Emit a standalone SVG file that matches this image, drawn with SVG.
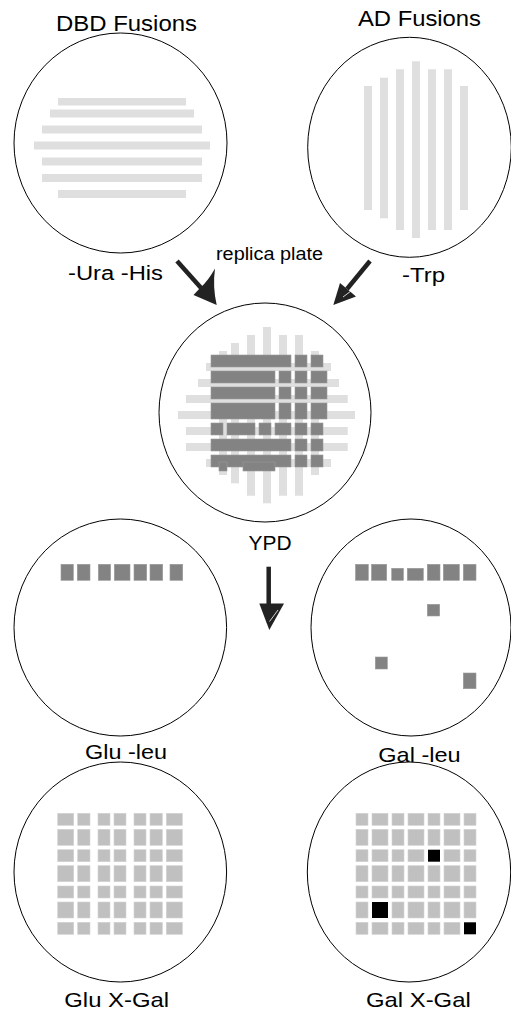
<svg xmlns="http://www.w3.org/2000/svg" width="511" height="1011" viewBox="0 0 511 1011">
<style>
.plate{fill:#fff;stroke:#000;stroke-width:1}
.lbl{font-family:"Liberation Sans",Arial,Helvetica,sans-serif;fill:#000}
.lt{fill:#dfdfdf}
.dk{fill:#838383;stroke:#9a9a9a;stroke-width:0.6}
.gr{fill:#c0c0c0;stroke:#d2d2d2;stroke-width:0.6}
.bk{fill:#000}
.arr{fill:#222;stroke:none}
.shaft{stroke:#222;stroke-width:4.5;fill:none}
</style>
<rect width="511" height="1011" fill="#fff"/>

<g id="dbd-plate">
<ellipse class="plate" cx="120.5" cy="143" rx="106.5" ry="110"/>
<rect class="lt" x="58" y="98" width="128" height="7.5"/>
<rect class="lt" x="50" y="109.5" width="144" height="8"/>
<rect class="lt" x="42" y="125.5" width="160" height="8"/>
<rect class="lt" x="34" y="141.5" width="176" height="8"/>
<rect class="lt" x="42" y="157.5" width="160" height="8"/>
<rect class="lt" x="42" y="174" width="160" height="8"/>
<rect class="lt" x="58" y="190" width="128" height="8"/>
<text class="lbl" x="56" y="31" font-size="22" textLength="141" lengthAdjust="spacingAndGlyphs">DBD Fusions</text>
<text class="lbl" x="68" y="280" font-size="20" textLength="95" lengthAdjust="spacingAndGlyphs">-Ura -His</text>
</g>

<g id="ad-plate">
<ellipse class="plate" cx="409.5" cy="147.3" rx="101.8" ry="110"/>
<rect class="lt" x="364" y="86" width="8" height="124"/>
<rect class="lt" x="380" y="77.7" width="8" height="140.6"/>
<rect class="lt" x="396" y="69.3" width="8" height="160.7"/>
<rect class="lt" x="412" y="61.3" width="8" height="176.7"/>
<rect class="lt" x="428" y="69.3" width="8" height="160.7"/>
<rect class="lt" x="444" y="69.3" width="8" height="160.7"/>
<rect class="lt" x="460" y="86" width="8" height="124"/>
<text class="lbl" x="358" y="26" font-size="22" textLength="123" lengthAdjust="spacingAndGlyphs">AD Fusions</text>
<text class="lbl" x="402" y="281.5" font-size="20" textLength="43" lengthAdjust="spacingAndGlyphs">-Trp</text>
</g>

<g id="ypd-plate">
<ellipse class="plate" cx="265" cy="412.5" rx="106" ry="109.5"/>
<rect class="lt" x="219" y="351" width="8" height="124"/>
<rect class="lt" x="231" y="343" width="8" height="140.3"/>
<rect class="lt" x="247" y="335" width="8" height="160.7"/>
<rect class="lt" x="263" y="327" width="8" height="176.3"/>
<rect class="lt" x="279" y="335" width="8" height="160.7"/>
<rect class="lt" x="295" y="335" width="8" height="160.7"/>
<rect class="lt" x="311" y="351" width="8" height="124"/>
<rect class="lt" x="206" y="363" width="125" height="8"/>
<rect class="lt" x="198" y="379" width="141" height="8"/>
<rect class="lt" x="186" y="395" width="161.7" height="8"/>
<rect class="lt" x="178" y="411" width="177" height="8"/>
<rect class="lt" x="186" y="427" width="161.7" height="8"/>
<rect class="lt" x="186" y="443" width="161.7" height="8"/>
<rect class="lt" x="206" y="459" width="125" height="8"/>
<rect class="dk" x="211" y="355" width="80" height="12"/>
<rect class="dk" x="295" y="355" width="12" height="12"/>
<rect class="dk" x="311" y="355" width="12" height="12"/>
<rect class="dk" x="211" y="371" width="64" height="12"/>
<rect class="dk" x="279" y="371" width="12" height="12"/>
<rect class="dk" x="295" y="371" width="12" height="12"/>
<rect class="dk" x="311" y="371" width="16" height="12"/>
<rect class="dk" x="211" y="387" width="64" height="12"/>
<rect class="dk" x="279" y="387" width="12" height="12"/>
<rect class="dk" x="295" y="387" width="12" height="12"/>
<rect class="dk" x="311" y="387" width="16" height="12"/>
<rect class="dk" x="211" y="403" width="64" height="16"/>
<rect class="dk" x="279" y="403" width="12" height="16"/>
<rect class="dk" x="295" y="403" width="12" height="16"/>
<rect class="dk" x="311" y="403" width="16" height="16"/>
<rect class="dk" x="211" y="423" width="12" height="12"/>
<rect class="dk" x="227" y="423" width="28" height="12"/>
<rect class="dk" x="259" y="423" width="12" height="12"/>
<rect class="dk" x="275" y="423" width="16" height="12"/>
<rect class="dk" x="295" y="423" width="12" height="12"/>
<rect class="dk" x="311" y="423" width="12" height="12"/>
<rect class="dk" x="211" y="439" width="80" height="12"/>
<rect class="dk" x="295" y="439" width="12" height="12"/>
<rect class="dk" x="311" y="439" width="12" height="12"/>
<rect class="dk" x="211" y="455" width="80" height="12"/>
<rect class="dk" x="219" y="462" width="8" height="9"/>
<rect class="dk" x="243" y="462" width="32" height="9"/>
<rect class="dk" x="295" y="455" width="12" height="12"/>
<rect class="dk" x="311" y="455" width="12" height="12"/>
<text class="lbl" x="248.5" y="549.5" font-size="20" textLength="43" lengthAdjust="spacingAndGlyphs">YPD</text>
</g>

<g id="glu-leu-plate">
<ellipse class="plate" cx="120.3" cy="627.5" rx="106.3" ry="108.5"/>
<rect class="dk" x="61" y="564.3" width="12.3" height="16"/>
<rect class="dk" x="77.3" y="564.3" width="12.7" height="16"/>
<rect class="dk" x="98.3" y="564.3" width="12.3" height="16"/>
<rect class="dk" x="114.3" y="564.3" width="15.7" height="16"/>
<rect class="dk" x="134" y="564.3" width="12.7" height="16"/>
<rect class="dk" x="150" y="564.3" width="12.7" height="16"/>
<rect class="dk" x="170" y="564.3" width="12.7" height="16"/>
<text class="lbl" x="85" y="759" font-size="21" textLength="82" lengthAdjust="spacingAndGlyphs">Glu -leu</text>
</g>

<g id="gal-leu-plate">
<ellipse class="plate" cx="411" cy="627.5" rx="100" ry="108.5"/>
<rect class="dk" x="355.5" y="564.3" width="12.8" height="16"/>
<rect class="dk" x="371.5" y="564.3" width="15.2" height="16"/>
<rect class="dk" x="391.7" y="568.3" width="11.7" height="12"/>
<rect class="dk" x="407.3" y="568.3" width="16" height="12"/>
<rect class="dk" x="427.3" y="564.3" width="12.7" height="16"/>
<rect class="dk" x="443.3" y="564.3" width="16" height="16"/>
<rect class="dk" x="463.3" y="564.3" width="12.7" height="16"/>
<rect class="dk" x="427.3" y="604.3" width="12.4" height="11.7"/>
<rect class="dk" x="375.3" y="657" width="12" height="12"/>
<rect class="dk" x="463.3" y="673" width="12.7" height="15.7"/>
<text class="lbl" x="378.3" y="762.3" font-size="21" textLength="82.4" lengthAdjust="spacingAndGlyphs">Gal -leu</text>
</g>

<g id="glu-xgal-plate">
<ellipse class="plate" cx="120.3" cy="872" rx="106.3" ry="110"/>
<g class="gr">
<rect x="57.7" y="813.3" width="16" height="12"/><rect x="77.7" y="813.3" width="12.3" height="12"/><rect x="98" y="813.3" width="12" height="12"/><rect x="114" y="813.3" width="12" height="12"/><rect x="134" y="813.3" width="12" height="12"/><rect x="150" y="813.3" width="12.3" height="12"/><rect x="166.3" y="813.3" width="16" height="12"/>
<rect x="57.7" y="829.3" width="16" height="16"/><rect x="77.7" y="829.3" width="12.3" height="16"/><rect x="98" y="829.3" width="12" height="16"/><rect x="114" y="829.3" width="12" height="16"/><rect x="134" y="829.3" width="12" height="16"/><rect x="150" y="829.3" width="12.3" height="16"/><rect x="166.3" y="829.3" width="16" height="16"/>
<rect x="57.7" y="849.7" width="16" height="12"/><rect x="77.7" y="849.7" width="12.3" height="12"/><rect x="98" y="849.7" width="12" height="12"/><rect x="114" y="849.7" width="12" height="12"/><rect x="134" y="849.7" width="12" height="12"/><rect x="150" y="849.7" width="12.3" height="12"/><rect x="166.3" y="849.7" width="16" height="12"/>
<rect x="57.7" y="865.7" width="16" height="16"/><rect x="77.7" y="865.7" width="12.3" height="16"/><rect x="98" y="865.7" width="12" height="16"/><rect x="114" y="865.7" width="12" height="16"/><rect x="134" y="865.7" width="12" height="16"/><rect x="150" y="865.7" width="12.3" height="16"/><rect x="166.3" y="865.7" width="16" height="16"/>
<rect x="57.7" y="886" width="16" height="12"/><rect x="77.7" y="886" width="12.3" height="12"/><rect x="98" y="886" width="12" height="12"/><rect x="114" y="886" width="12" height="12"/><rect x="134" y="886" width="12" height="12"/><rect x="150" y="886" width="12.3" height="12"/><rect x="166.3" y="886" width="16" height="12"/>
<rect x="57.7" y="902" width="16" height="16"/><rect x="77.7" y="902" width="12.3" height="16"/><rect x="98" y="902" width="12" height="16"/><rect x="114" y="902" width="12" height="16"/><rect x="134" y="902" width="12" height="16"/><rect x="150" y="902" width="12.3" height="16"/><rect x="166.3" y="902" width="16" height="16"/>
<rect x="57.7" y="922.3" width="16" height="12"/><rect x="77.7" y="922.3" width="12.3" height="12"/><rect x="98" y="922.3" width="12" height="12"/><rect x="114" y="922.3" width="12" height="12"/><rect x="134" y="922.3" width="12" height="12"/><rect x="150" y="922.3" width="12.3" height="12"/><rect x="166.3" y="922.3" width="16" height="12"/>
</g>
<text class="lbl" x="64.3" y="1006.5" font-size="21" textLength="104.7" lengthAdjust="spacingAndGlyphs">Glu X-Gal</text>
</g>

<g id="gal-xgal-plate">
<ellipse class="plate" cx="409" cy="872" rx="101.7" ry="110"/>
<g class="gr">
<rect x="356" y="813.3" width="12" height="12"/><rect x="372" y="813.3" width="16" height="12"/><rect x="392" y="813.3" width="12" height="12"/><rect x="408" y="813.3" width="16" height="12"/><rect x="428" y="813.3" width="12" height="12"/><rect x="444" y="813.3" width="16" height="12"/><rect x="464" y="813.3" width="12" height="12"/>
<rect x="356" y="829.3" width="12" height="16"/><rect x="372" y="829.3" width="16" height="16"/><rect x="392" y="829.3" width="12" height="16"/><rect x="408" y="829.3" width="16" height="16"/><rect x="428" y="829.3" width="12" height="16"/><rect x="444" y="829.3" width="16" height="16"/><rect x="464" y="829.3" width="12" height="16"/>
<rect x="356" y="849.7" width="12" height="12"/><rect x="372" y="849.7" width="16" height="12"/><rect x="392" y="849.7" width="12" height="12"/><rect x="408" y="849.7" width="16" height="12"/><rect x="444" y="849.7" width="16" height="12"/><rect x="464" y="849.7" width="12" height="12"/>
<rect x="356" y="865.7" width="12" height="16"/><rect x="372" y="865.7" width="16" height="16"/><rect x="392" y="865.7" width="12" height="16"/><rect x="408" y="865.7" width="16" height="16"/><rect x="428" y="865.7" width="12" height="16"/><rect x="444" y="865.7" width="16" height="16"/><rect x="464" y="865.7" width="12" height="16"/>
<rect x="356" y="886" width="12" height="12"/><rect x="372" y="886" width="16" height="12"/><rect x="392" y="886" width="12" height="12"/><rect x="408" y="886" width="16" height="12"/><rect x="428" y="886" width="12" height="12"/><rect x="444" y="886" width="16" height="12"/><rect x="464" y="886" width="12" height="12"/>
<rect x="356" y="902" width="12" height="16"/><rect x="392" y="902" width="12" height="16"/><rect x="408" y="902" width="16" height="16"/><rect x="428" y="902" width="12" height="16"/><rect x="444" y="902" width="16" height="16"/><rect x="464" y="902" width="12" height="16"/>
<rect x="356" y="922.3" width="12" height="12"/><rect x="372" y="922.3" width="16" height="12"/><rect x="392" y="922.3" width="12" height="12"/><rect x="408" y="922.3" width="16" height="12"/><rect x="428" y="922.3" width="12" height="12"/><rect x="444" y="922.3" width="16" height="12"/>
</g>
<rect class="bk" x="428" y="849.7" width="12" height="12"/>
<rect class="bk" x="372" y="902" width="16" height="16"/>
<rect class="bk" x="464" y="922.3" width="12" height="12"/>
<text class="lbl" x="366" y="1006.5" font-size="21" textLength="104.7" lengthAdjust="spacingAndGlyphs">Gal X-Gal</text>
</g>

<g id="connectors">
<line class="shaft" x1="177" y1="261" x2="202" y2="289"/>
<path class="arr" d="M216.7,305 L193.5,295 L201,287 Q208,281 215,268.5 Q212.5,287 216.7,305 Z"/>
<line class="shaft" x1="370" y1="261" x2="347" y2="289"/>
<path class="arr" d="M333.3,305 L340,283 L356,296.5 Z"/>
<line x1="343" y1="297" x2="351" y2="291" stroke="#fff" stroke-width="0.8"/>
<text class="lbl" x="216" y="260" font-size="17.5" textLength="107" lengthAdjust="spacingAndGlyphs">replica plate</text>
<line class="shaft" x1="268.7" y1="566.7" x2="268.7" y2="604"/>
<path class="arr" d="M259.3,603.5 L284,603.5 L269.3,630 Z"/>
<line x1="269.5" y1="621.5" x2="278" y2="610" stroke="#fff" stroke-width="0.8"/>
</g>
</svg>
